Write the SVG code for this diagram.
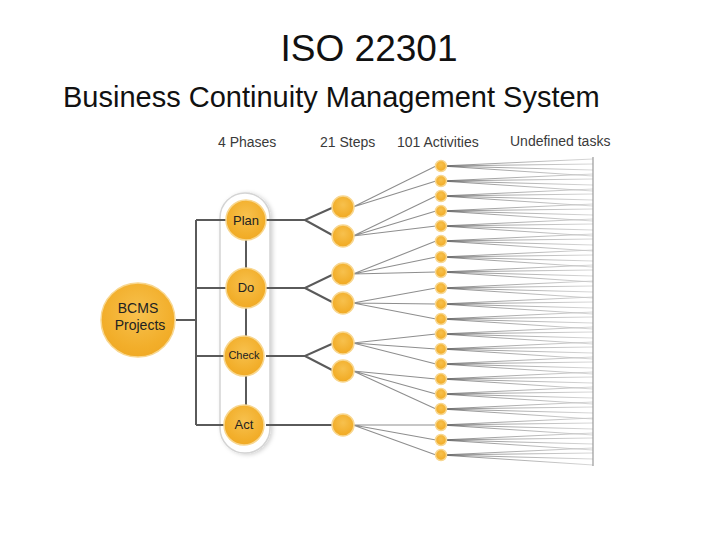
<svg xmlns="http://www.w3.org/2000/svg" width="720" height="540" viewBox="0 0 720 540">
<defs>
<style>
.title{font-family:"Liberation Sans",Arial,sans-serif;fill:#111}
.hdr{font-family:"Liberation Sans",Arial,sans-serif;font-size:14px;fill:#3a3a3a}
.lbl{font-family:"Liberation Sans",Arial,sans-serif;fill:#222;text-anchor:middle}
.dark{stroke:#5a5a5a;stroke-width:2;fill:none}
.mid{stroke:#8e8e8e;stroke-width:1.1;fill:none}
.fan{stroke:url(#fanG);stroke-width:0.7;fill:none}
.ball{fill:url(#ballG);stroke:#f8d790;stroke-width:1.5}
</style>
<radialGradient id="ballG" cx="50%" cy="40%" r="60%">
<stop offset="0" stop-color="#f7c14e"/>
<stop offset="0.8" stop-color="#f2ae2a"/>
<stop offset="1" stop-color="#f0aa26"/>
</radialGradient>
<linearGradient id="fanG" gradientUnits="userSpaceOnUse" x1="441" y1="0" x2="593" y2="0">
<stop offset="0" stop-color="#555"/>
<stop offset="1" stop-color="#c8c8c8"/>
</linearGradient>
<filter id="sh" x="-30%" y="-10%" width="160%" height="120%">
<feDropShadow dx="2" dy="1" stdDeviation="2" flood-color="#000" flood-opacity="0.18"/>
</filter>
</defs>
<rect width="720" height="540" fill="#fff"/>
<text class="title" x="369" y="61" font-size="37" text-anchor="middle">ISO 22301</text>
<text class="title" x="63" y="107" font-size="29">Business Continuity Management System</text>
<g id="headers">
<text class="hdr" x="218" y="147">4 Phases</text>
<text class="hdr" x="320" y="147">21 Steps</text>
<text class="hdr" x="397" y="147">101 Activities</text>
<text class="hdr" x="510" y="146">Undefined tasks</text>
</g>
<rect id="capsule" x="220" y="193" width="50" height="260" rx="25" fill="#fff" stroke="#d4d4d4" stroke-width="1.5" filter="url(#sh)"/>
<g id="connectors">
<path class="dark" d="M176 320H196M196 220V425M196 220H227M196 288H227M196 356H227M196 425H227M246 220V425"/>
<path class="dark" d="M266 220H305L334 207M305 220L334 236M266 288H305L334 274M305 288L334 303M266 356H305L334 343M305 356L334 371M266 425H333"/>
<path class="mid" d="M353 207L436 166M353 207L436 181M353 236L436 196M353 236L436 211M353 236L436 226M353 274L436 241M353 274L436 257M353 274L436 272M353 303L436 288M353 303L436 304M353 303L436 319M353 343L436 334M353 343L436 349M353 343L436 364M353 371L436 379M353 371L436 394M353 371L436 409M353 425L436 425M353 425L436 440M353 425L436 455"/>
<path class="fan" d="M441 166L593 159M441 166L593 164M441 166L593 170M441 166L593 176
M441 181L593 174M441 181L593 179M441 181L593 185M441 181L593 191
M441 196L593 189M441 196L593 194M441 196L593 200M441 196L593 206
M441 211L593 204M441 211L593 209M441 211L593 215M441 211L593 221
M441 226L593 219M441 226L593 224M441 226L593 230M441 226L593 236
M441 241L593 234M441 241L593 239M441 241L593 245M441 241L593 251
M441 257L593 250M441 257L593 255M441 257L593 261M441 257L593 267
M441 272L593 265M441 272L593 270M441 272L593 276M441 272L593 282
M441 288L593 281M441 288L593 286M441 288L593 292M441 288L593 298
M441 304L593 297M441 304L593 302M441 304L593 308M441 304L593 314
M441 319L593 312M441 319L593 317M441 319L593 323M441 319L593 329
M441 334L593 327M441 334L593 332M441 334L593 338M441 334L593 344
M441 349L593 342M441 349L593 347M441 349L593 353M441 349L593 359
M441 364L593 357M441 364L593 362M441 364L593 368M441 364L593 374
M441 379L593 372M441 379L593 377M441 379L593 383M441 379L593 389
M441 394L593 387M441 394L593 392M441 394L593 398M441 394L593 404
M441 409L593 402M441 409L593 407M441 409L593 413M441 409L593 419
M441 425L593 418M441 425L593 423M441 425L593 429M441 425L593 435
M441 440L593 433M441 440L593 438M441 440L593 444M441 440L593 450
M441 455L593 448M441 455L593 453M441 455L593 459M441 455L593 465"/>
<path d="M593 157V466" stroke="#9a9a9a" stroke-width="1.2"/>
</g>
<g id="bcms"><circle class="ball" cx="138" cy="320" r="37"/><text class="lbl" x="138" y="313" font-size="14">BCMS</text><text class="lbl" x="140" y="330" font-size="14">Projects</text></g>
<g id="plan"><circle class="ball" cx="246" cy="220" r="20"/><text class="lbl" x="246" y="225" font-size="13">Plan</text></g>
<g id="do"><circle class="ball" cx="246" cy="288" r="20"/><text class="lbl" x="246" y="292" font-size="13">Do</text></g>
<g id="check"><circle class="ball" cx="244" cy="356" r="20"/><text class="lbl" x="244" y="359" font-size="11">Check</text></g>
<g id="act"><circle class="ball" cx="244" cy="425" r="20"/><text class="lbl" x="244" y="429" font-size="13">Act</text></g>
<g id="steps">
<circle class="ball" cx="343" cy="207" r="11"/><circle class="ball" cx="343" cy="236" r="11"/>
<circle class="ball" cx="343" cy="274" r="11"/><circle class="ball" cx="343" cy="303" r="11"/>
<circle class="ball" cx="343" cy="343" r="11"/><circle class="ball" cx="343" cy="371" r="11"/>
<circle class="ball" cx="343" cy="425" r="11"/>
</g>
<g id="activities">
<circle class="ball" cx="441" cy="166" r="5.5"/><circle class="ball" cx="441" cy="181" r="5.5"/><circle class="ball" cx="441" cy="196" r="5.5"/><circle class="ball" cx="441" cy="211" r="5.5"/><circle class="ball" cx="441" cy="226" r="5.5"/>
<circle class="ball" cx="441" cy="241" r="5.5"/><circle class="ball" cx="441" cy="257" r="5.5"/><circle class="ball" cx="441" cy="272" r="5.5"/><circle class="ball" cx="441" cy="288" r="5.5"/><circle class="ball" cx="441" cy="304" r="5.5"/>
<circle class="ball" cx="441" cy="319" r="5.5"/><circle class="ball" cx="441" cy="334" r="5.5"/><circle class="ball" cx="441" cy="349" r="5.5"/><circle class="ball" cx="441" cy="364" r="5.5"/><circle class="ball" cx="441" cy="379" r="5.5"/>
<circle class="ball" cx="441" cy="394" r="5.5"/><circle class="ball" cx="441" cy="409" r="5.5"/><circle class="ball" cx="441" cy="425" r="5.5"/><circle class="ball" cx="441" cy="440" r="5.5"/><circle class="ball" cx="441" cy="455" r="5.5"/>
</g>
</svg>
